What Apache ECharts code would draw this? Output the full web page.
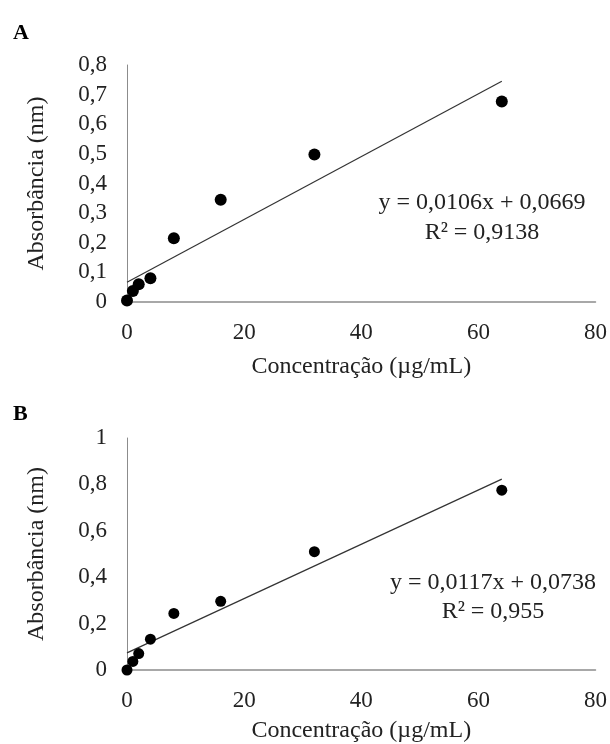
<!DOCTYPE html>
<html>
<head>
<meta charset="utf-8">
<script src="https://cdn.jsdelivr.net/npm/echarts@6/dist/echarts.min.js"></script>
<style>
  html, body { margin: 0; padding: 0; background: #fff; }
  #chart { width: 610px; height: 744px; }
</style>
</head>
<body>
<div id="chart"></div>
<script>
    // concentrations (µg/mL)
    const concA = [0, 1, 2, 4, 8, 16, 32, 64];
    const absA = [0.005, 0.037, 0.06, 0.08, 0.215, 0.345, 0.498, 0.677];
    const concB = [0, 1, 2, 4, 8, 16, 32, 64];
    const absB = [0.0, 0.037, 0.071, 0.133, 0.244, 0.296, 0.51, 0.775];

    // linear trendlines as printed on the figure
    const fitA = { slope: 0.0106, intercept: 0.0669, r2: '0,9138' };
    const fitB = { slope: 0.0117, intercept: 0.0738, r2: '0,955' };
    const trendRange = [0, 64];

    const yTicksA = { min: 0, max: 0.8, interval: 0.1 };
    const yTicksB = { min: 0, max: 1, interval: 0.2 };
    const xTicks = { min: 0, max: 80, interval: 20 };

    const font = '"Liberation Serif", "Times New Roman", serif';
    const textColor = '#222';
    const axisColor = '#8c8c8c';

    function pairs (xs, ys) {
        return xs.map((x, i) => [x, ys[i]]);
    }
    function trend (fit) {
        return trendRange.map(x => [x, fit.slope * x + fit.intercept]);
    }
    function comma (v) {
        return String(Math.round(v * 10) / 10).replace('.', ',');
    }
    function eqText (fit) {
        return 'y = ' + String(fit.slope).replace('.', ',') + 'x + ' + String(fit.intercept).replace('.', ',');
    }

    function xAxis (gridIndex, gap) {
        return {
            gridIndex: gridIndex,
            type: 'value',
            min: xTicks.min,
            max: xTicks.max,
            interval: xTicks.interval,
            name: 'Concentração (µg/mL)',
            nameLocation: 'middle',
            nameGap: gap,
            nameTextStyle: { fontFamily: font, fontSize: 24, color: textColor },
            axisLine: { show: true, lineStyle: { color: axisColor, width: 1.5 } },
            axisTick: { show: false },
            splitLine: { show: false },
            axisLabel: { fontFamily: font, fontSize: 23, color: textColor, margin: 19 }
        };
    }
    function yAxis (gridIndex, ticks) {
        return {
            gridIndex: gridIndex,
            type: 'value',
            min: ticks.min,
            max: ticks.max,
            interval: ticks.interval,
            name: 'Absorbância (nm)',
            nameLocation: 'middle',
            nameGap: 78,
            nameTextStyle: { fontFamily: font, fontSize: 24, color: textColor },
            axisLine: { show: true, lineStyle: { color: axisColor, width: 1 } },
            axisTick: { show: false },
            splitLine: { show: false },
            axisLabel: { fontFamily: font, fontSize: 23, color: textColor, margin: 20, formatter: comma }
        };
    }
    function dots (idx, data, size) {
        return {
            type: 'scatter',
            xAxisIndex: idx,
            yAxisIndex: idx,
            data: data,
            symbolSize: size,
            itemStyle: { color: '#000', opacity: 1 },
            z: 3
        };
    }
    function line (idx, data) {
        return {
            type: 'line',
            xAxisIndex: idx,
            yAxisIndex: idx,
            data: data,
            symbol: 'none',
            lineStyle: { color: '#333', width: 1.2 },
            z: 2
        };
    }

    const chart = echarts.init(document.getElementById('chart'), null, { renderer: 'canvas' });
    chart.setOption({
        animation: false,
        backgroundColor: '#fff',
        grid: [
            { left: 127, top: 65, width: 470, height: 237 },
            { left: 127, top: 438, width: 470, height: 234 }
        ],
        xAxis: [xAxis(0, 53), xAxis(1, 49)],
        yAxis: [yAxis(0, yTicksA), yAxis(1, yTicksB)],
        series: [
            line(0, trend(fitA)),
            dots(0, pairs(concA, absA), 12),
            line(1, trend(fitB)),
            dots(1, pairs(concB, absB), 11)
        ],
        graphic: [
            { type: 'text', left: 13, top: 22, style: { text: 'A', font: 'bold 22px ' + font, fill: '#000' } },
            { type: 'text', left: 13, top: 403, style: { text: 'B', font: 'bold 22px ' + font, fill: '#000' } },
            { type: 'text', x: 482, y: 203, style: { text: eqText(fitA), font: '24px ' + font, fill: textColor, align: 'center', verticalAlign: 'middle' } },
            { type: 'text', x: 482, y: 233, style: { text: 'R² = ' + fitA.r2, font: '24px ' + font, fill: textColor, align: 'center', verticalAlign: 'middle' } },
            { type: 'text', x: 493, y: 583, style: { text: eqText(fitB), font: '24px ' + font, fill: textColor, align: 'center', verticalAlign: 'middle' } },
            { type: 'text', x: 493, y: 612, style: { text: 'R² = ' + fitB.r2, font: '24px ' + font, fill: textColor, align: 'center', verticalAlign: 'middle' } }
        ]
    });
</script>
</body>
</html>
